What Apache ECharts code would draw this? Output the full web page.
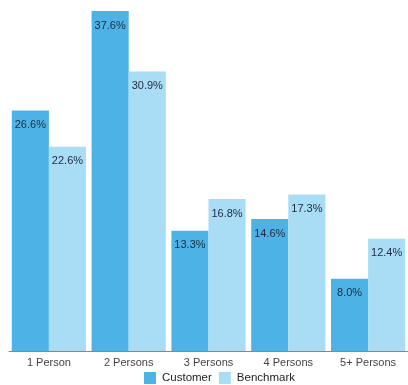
<!DOCTYPE html>
<html>
<head>
<meta charset="utf-8">
<script src="https://cdn.jsdelivr.net/npm/echarts@6/dist/echarts.min.js"></script>
<style>
  html, body { margin: 0; padding: 0; background: #fff; }
  #chart { width: 408px; height: 385px; }
</style>
</head>
<body>
<div id="chart"></div>
<script>
const categories = ['1 Person', '2 Persons', '3 Persons', '4 Persons', '5+ Persons'];
const customer = [26.6, 37.6, 13.3, 14.6, 8.0];
const benchmark = [22.6, 30.9, 16.8, 17.3, 12.4];

const chart = echarts.init(document.getElementById('chart'));

const barLabel = {
  show: true,
  position: 'insideTop',
  distance: 9,
  color: '#1d2b3f',
  fontSize: 11,
  fontFamily: 'Liberation Sans, Arial, sans-serif',
  formatter: (p) => p.value.toFixed(1) + '%',
};

chart.setOption({
  animation: false,
  color: ['#4db3e6', '#a9dcf5'],
  grid: {
    left: 9,
    right: -3,
    top: 11,
    bottom: 34,
  },
  legend: {
    top: 372,
    left: 144,
    padding: 0,
    itemWidth: 12,
    itemHeight: 12,
    itemGap: 7,
    icon: 'rect',
    textStyle: {
      color: '#222',
      fontSize: 11.5,
      padding: [0, 0, 0, 1],
      fontFamily: 'Liberation Sans, Arial, sans-serif',
    },
  },
  xAxis: {
    type: 'category',
    data: categories,
    axisTick: { show: false },
    axisLine: { lineStyle: { color: '#888', width: 1 } },
    axisLabel: {
      color: '#444',
      fontSize: 11,
      margin: 6,
      fontFamily: 'Liberation Sans, Arial, sans-serif',
    },
  },
  yAxis: {
    type: 'value',
    min: 0,
    max: 37.6,
    show: false,
    splitLine: { show: false },
  },
  series: [
    {
      name: 'Customer',
      type: 'bar',
      data: customer,
      barGap: '0%',
      barCategoryGap: '7%',
      label: barLabel,
    },
    {
      name: 'Benchmark',
      type: 'bar',
      data: benchmark,
      label: barLabel,
    },
  ],
});
</script>
</body>
</html>
